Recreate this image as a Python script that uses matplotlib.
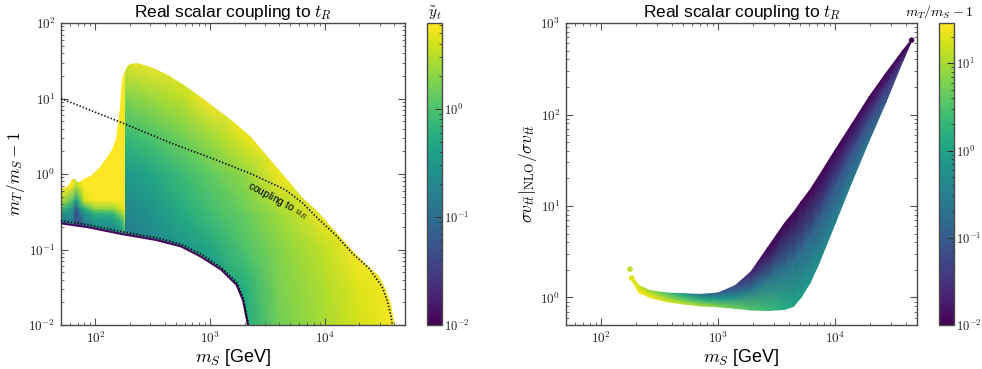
import numpy as np
import matplotlib
matplotlib.use('Agg')
import matplotlib.pyplot as plt
from matplotlib.colors import LogNorm
from matplotlib.patches import Polygon
from matplotlib.ticker import FuncFormatter, NullFormatter

plt.rcParams['font.family'] = ['Liberation Sans', 'DejaVu Sans']
plt.rcParams['mathtext.fontset'] = 'cm'

# ------------------------------------------------------------------
# LEFT PANEL DATA  (m_S [GeV], Delta = m_T/m_S - 1, colour = y~_t)
# ------------------------------------------------------------------
lo_ms = [48, 87, 120, 171, 180, 336, 557, 836, 1250, 1700, 1940, 2150]
lo_dm = [0.224, 0.197, 0.178, 0.160, 0.158, 0.134, 0.110, 0.080, 0.054, 0.034, 0.021, 0.0095]
dlo_ms = [50, 87, 171, 336, 557, 836, 1250, 1700, 1940, 2150]
dlo_dm = [0.240, 0.212, 0.172, 0.144, 0.118, 0.087, 0.058, 0.037, 0.023, 0.0102]
a_hi_ms = [48, 56, 60, 63, 66, 69, 73, 80, 93, 109, 121, 140, 150, 157, 163, 168, 174, 180]
a_hi_dm = [0.64, 0.68, 0.76, 0.85, 0.86, 0.78, 0.78, 0.86, 0.97, 1.25, 1.55, 2.1, 2.9, 4.5, 7.5, 13, 20, 23.5]
b_hi_ms = [180, 188, 200, 232, 303, 425, 595, 835, 1170, 1640, 2300, 3220, 4510, 6320,
           8870, 12420, 17400, 24400, 29800, 34200, 37800, 40400, 41300]
b_hi_dm = [23.5, 26.5, 28.4, 29.2, 26.3, 20.5, 15.1, 10.6, 7.0, 4.7, 2.97, 1.70, 0.92, 0.50,
           0.30, 0.172, 0.098, 0.059, 0.044, 0.029, 0.019, 0.0115, 0.0095]
u_ms = [50, 163, 476, 1000, 2300, 4510, 6320, 8870, 12420, 17400, 24400, 31600, 35000, 37800, 39000]
u_dm = [10.0, 4.9, 2.5, 1.65, 1.0, 0.62, 0.42, 0.25, 0.156, 0.089, 0.056, 0.032, 0.021, 0.013, 0.0095]

gB_ms = [175, 300, 600, 1000, 2000, 4000, 10000, 20000, 45000]
gB_dm = [0.008, 0.03, 0.1, 0.3, 1, 3, 10, 35]
ytB = [
    [0.13, 0.18, 0.25, 0.34, 0.47, 1.5, 2.7, 4.0, 6.2],
    [0.13, 0.18, 0.25, 0.34, 0.54, 1.7, 2.9, 4.5, 6.2],
    [0.13, 0.18, 0.30, 0.45, 1.0, 1.9, 3.5, 6.2, 6.2],
    [0.18, 0.27, 0.52, 0.85, 1.4, 2.5, 5.5, 6.2, 6.2],
    [0.30, 0.45, 0.85, 1.25, 2.2, 5.5, 6.2, 6.2, 6.2],
    [0.70, 0.95, 1.60, 2.4, 4.8, 6.2, 6.2, 6.2, 6.2],
    [1.70, 2.30, 3.40, 6.2, 6.2, 6.2, 6.2, 6.2, 6.2],
    [5.10, 6.2, 6.2, 6.2, 6.2, 6.2, 6.2, 6.2, 6.2],
]
gA_ms = [48, 63, 67, 73, 80, 100, 140, 170, 182]
gA_dm = [0.15, 0.2, 0.25, 0.3, 0.35, 0.45, 0.7, 35]
ytA = [
    [0.13, 0.10, 0.07, 0.03, 0.07, 0.18, 0.18, 0.25, 0.9],
    [0.13, 0.13, 0.07, 0.036, 0.13, 0.25, 0.25, 0.47, 1.7],
    [0.18, 0.18, 0.05, 0.07, 0.18, 0.34, 0.34, 0.9, 3.2],
    [0.30, 0.25, 0.04, 0.13, 0.25, 0.65, 0.65, 2.3, 4.5],
    [1.00, 0.34, 0.06, 0.25, 0.65, 2.3, 2.3, 4.5, 6.2],
    [4.50, 1.00, 0.30, 1.0, 4.5, 6.2, 6.2, 6.2, 6.2],
    [6.2, 6.2, 3.0, 4.5, 6.2, 6.2, 6.2, 6.2, 6.2],
    [6.2, 6.2, 6.2, 6.2, 6.2, 6.2, 6.2, 6.2, 6.2],
]

# ------------------------------------------------------------------
# RIGHT PANEL DATA  (m_S, ratio sigma v NLO / LO, colour = Delta)
# ------------------------------------------------------------------
r_ms = [182, 210, 260, 360, 500, 700, 1000, 1400, 1900, 2650, 3700, 4400, 5100, 6100, 7200,
        10000, 14000, 19500, 27000, 38000, 45000]
r_top = [1.70, 1.35, 1.19, 1.12, 1.10, 1.08, 1.12, 1.35, 1.9, 3.5, 6.5, 8.5, 11.1, 15, 20.9,
         40.9, 80, 156, 280, 503, 660]
r_mid = [1.62, 1.23, 1.09, 1.00, 0.97, 0.94, 0.95, 1.00, 1.18, 1.6, 2.2, 2.6, 3.3, 4.7, 6.9,
         16.3, 39, 90, 195, 443, 650]
r_bot = [1.55, 1.13, 1.00, 0.90, 0.85, 0.81, 0.79, 0.76, 0.73, 0.72, 0.74, 0.80, 1.0, 1.45, 2.3,
         6.5, 18.9, 52, 135, 390, 640]
d_top = [20, 15, 8, 3, 0.8, 0.2, 0.1, 0.05, 0.02, 0.01, 0.01, 0.01, 0.01, 0.01, 0.01,
         0.01, 0.01, 0.01, 0.01, 0.01, 0.01]
d_mid = [21, 20, 15, 7.7, 3, 1.5, 0.8, 0.45, 0.25, 0.19, 0.17, 0.16, 0.15, 0.13, 0.11,
         0.09, 0.075, 0.06, 0.035, 0.017, 0.01]
d_bot = [22, 28, 27, 20, 15, 11, 7, 5, 3.3, 2.3, 1.5, 1.15, 0.9, 0.7, 0.55,
         0.38, 0.3, 0.22, 0.1, 0.04, 0.01]
dot_ms = [176, 182, 45000]
dot_r = [2.04, 1.63, 650]
dot_d = [13, 20, 0.01]

# ------------------------------------------------------------------
fig = plt.figure(figsize=(9.82, 3.69), dpi=100)
ax1 = fig.add_axes([0.0621, 0.1192, 0.3503, 0.8184])
cax1 = fig.add_axes([0.4348, 0.1192, 0.0153, 0.8184])
ax2 = fig.add_axes([0.5764, 0.1192, 0.3574, 0.8184])
cax2 = fig.add_axes([0.9562, 0.1192, 0.0153, 0.8184])

cmap = plt.get_cmap('viridis')
norm1 = LogNorm(vmin=0.01, vmax=6.25)
norm2 = LogNorm(vmin=0.01, vmax=29.0)

for ax in (ax1, ax2):
    ax.set_xscale('log')
    ax.set_yscale('log')

# ---- left panel ----
lo_ms_a = np.array(lo_ms)
lo_dm_a = np.array(lo_dm)
selA = lo_ms_a <= 180
selB = lo_ms_a >= 180
polyA_pts = list(zip(lo_ms_a[selA], lo_dm_a[selA])) + list(zip(a_hi_ms[::-1], a_hi_dm[::-1]))
polyB_pts = list(zip(lo_ms_a[selB], lo_dm_a[selB])) + list(zip(b_hi_ms[::-1], b_hi_dm[::-1]))

XA, YA = np.meshgrid(gA_ms, gA_dm)
qA = ax1.pcolormesh(XA, YA, np.array(ytA), shading='gouraud', cmap=cmap, norm=norm1)
qA.set_clip_path(Polygon(polyA_pts, closed=True, transform=ax1.transData))

XB, YB = np.meshgrid(gB_ms, gB_dm)
qB = ax1.pcolormesh(XB, YB, np.array(ytB), shading='gouraud', cmap=cmap, norm=norm1)
qB.set_clip_path(Polygon(polyB_pts, closed=True, transform=ax1.transData))

ax1.plot(lo_ms, lo_dm, color=cmap(0.02), lw=1.5, solid_capstyle='butt', zorder=3)
ax1.plot(dlo_ms, dlo_dm, color='black', lw=1.2, ls=(0, (0.8, 1.2)), zorder=4)
ax1.plot(u_ms, u_dm, color='black', lw=1.2, ls=(0, (0.8, 1.2)), zorder=4)
ax1.text(3900, 0.45, r'coupling to $u_R$', rotation=-28, fontsize=7.5,
         ha='center', va='center', rotation_mode='anchor', zorder=5)

ax1.set_xlim(50, 5e4)
ax1.set_ylim(1e-2, 1e2)
ax1.set_xlabel(r'$m_S$ [GeV]', fontsize=13, labelpad=1)
ax1.set_ylabel(r'$m_T/m_S-1$', fontsize=12.5, labelpad=1)
ax1.set_title(r'Real scalar coupling to $t_R$', fontsize=12.5, pad=4)

# ---- right panel ----
XR = np.array([r_ms, r_ms, r_ms], dtype=float)
YR = np.array([r_top, r_mid, r_bot], dtype=float)
CR = np.array([d_top, d_mid, d_bot], dtype=float)
qR = ax2.pcolormesh(XR, YR, CR, shading='gouraud', cmap=cmap, norm=norm2)
ax2.scatter(dot_ms, dot_r, c=dot_d, cmap=cmap, norm=norm2, s=16, edgecolors='none', zorder=3)

ax2.set_xlim(50, 5e4)
ax2.set_ylim(0.5, 1e3)
ax2.set_xlabel(r'$m_S$ [GeV]', fontsize=13, labelpad=1)
ax2.set_ylabel(r'$\sigma v_{t\bar{t}}|_{\rm NLO}/\sigma v_{t\bar{t}}$', fontsize=12.5, labelpad=1)
ax2.set_title(r'Real scalar coupling to $t_R$', fontsize=12.5, pad=4)


def pow10(v, pos):
    return r'$10^{%d}$' % int(np.round(np.log10(v)))


spine_col = '#4a4a4a'
for ax in (ax1, ax2):
    ax.tick_params(which='both', direction='in', top=True, right=True, colors='#555555',
                   labelcolor='#222222', labelsize=9.5)
    ax.tick_params(which='major', length=5, width=0.8, pad=4)
    ax.tick_params(which='minor', length=2.5, width=0.6)
    for axis in (ax.xaxis, ax.yaxis):
        axis.set_major_formatter(FuncFormatter(pow10))
        axis.set_minor_formatter(NullFormatter())
    for s in ax.spines.values():
        s.set_edgecolor(spine_col)
        s.set_linewidth(1.0)

# ---- colorbars ----
cb1 = fig.colorbar(qB, cax=cax1)
cb2 = fig.colorbar(qR, cax=cax2)
cb1.ax.set_title(r'$\tilde{y}_t$', fontsize=11, pad=4)
cax2.text(0.0, 1.038, r'$m_T/m_S-1$', transform=cax2.transAxes, fontsize=10,
          ha='center', va='center')
for cb in (cb1, cb2):
    cb.ax.yaxis.set_major_formatter(FuncFormatter(pow10))
    cb.ax.yaxis.set_minor_formatter(NullFormatter())
    cb.ax.tick_params(which='both', direction='in', colors='#333333',
                      labelcolor='#222222', labelsize=9)
    cb.ax.tick_params(which='major', length=5, width=0.8, pad=1.5)
    cb.ax.tick_params(which='minor', length=2.5, width=0.6)
    cb.outline.set_edgecolor(spine_col)
    cb.outline.set_linewidth(1.0)

fig.savefig('out.png', dpi=100)
